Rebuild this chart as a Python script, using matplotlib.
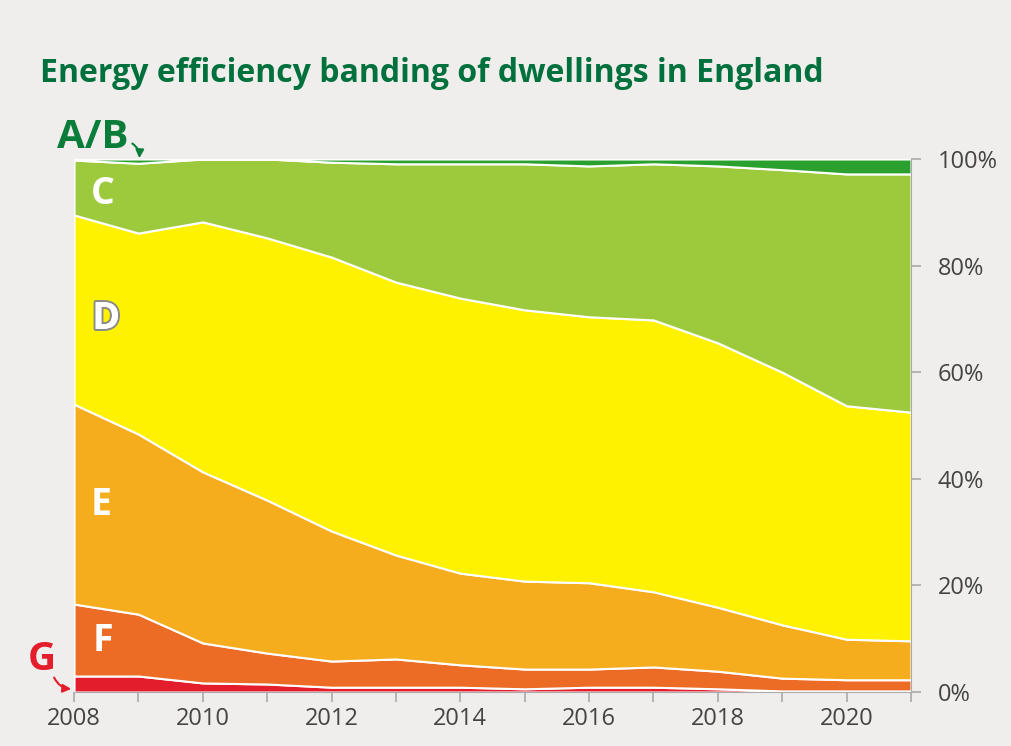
import matplotlib
matplotlib.use("Agg")
import matplotlib.pyplot as plt
import matplotlib.patheffects as pe
import numpy as np

years = list(range(2008, 2022))
band_G = [3.0, 3.0, 1.7, 1.5, 0.9, 0.9, 0.9, 0.6, 0.9, 0.9, 0.6, 0.2, 0.2, 0.2]
band_F = [13.5, 11.6, 7.5, 5.8, 4.9, 5.3, 4.2, 3.7, 3.4, 3.8, 3.3, 2.4, 2.1, 2.1]
band_E = [37.5, 33.8, 32.1, 28.7, 24.4, 19.5, 17.2, 16.5, 16.2, 14.1, 12.0, 10.0, 7.6, 7.3]
band_D = [35.5, 37.7, 46.9, 49.2, 51.4, 51.2, 51.6, 50.9, 49.9, 51.0, 49.6, 47.4, 43.8, 42.9]
band_C = [10.3, 13.1, 11.8, 14.8, 17.8, 22.2, 25.2, 27.4, 28.3, 29.3, 33.2, 38.0, 43.5, 44.7]
band_AB = [0.2, 0.8, 0.0, 0.0, 0.6, 0.9, 0.9, 0.9, 1.3, 0.9, 1.3, 2.0, 2.8, 2.8]

colors = ["#e31d2b", "#ec6b25", "#f5ad1e", "#fff200", "#9dca3c", "#2aa02e"]
bg = "#efeeec"

fig = plt.figure(figsize=(10.11, 7.46), dpi=100, facecolor=bg)
ax = fig.add_axes([74/1011, 54/746, (911-74)/1011, (692-159)/746])
ax.set_facecolor(bg)

ax.stackplot(years, band_G, band_F, band_E, band_D, band_C, band_AB,
             colors=colors, edgecolor="white", linewidth=1.5)

ax.set_xlim(2008, 2021)
ax.set_ylim(0, 100)

for s in ["top", "left"]:
    ax.spines[s].set_visible(False)
ax.spines["right"].set_color("#aaaaaa")
ax.spines["bottom"].set_color("#aaaaaa")
ax.axvline(2008, color="white", lw=1.5)

ax.yaxis.tick_right()
ax.set_yticks([0, 20, 40, 60, 80, 100])
ax.set_yticklabels([f"{v}%" for v in [0, 20, 40, 60, 80, 100]])
ax.set_xticks(years)
ax.set_xticklabels([str(y) if y % 2 == 0 else "" for y in years])
ax.tick_params(axis="both", colors="#aaaaaa", labelcolor="#444444",
               labelsize=17, length=7, width=1.2)
ax.tick_params(axis="y", pad=12)
ax.tick_params(axis="x", pad=4)
for lab in ax.get_xticklabels() + ax.get_yticklabels():
    lab.set_family("Open Sans")

fig.text(40/1011, 1 - 73/746, "Energy efficiency banding of dwellings in England",
         fontsize=23, fontweight="bold", color="#00703c", family="Open Sans",
         ha="left", va="center")

lab_kw = dict(fontsize=27, fontweight="bold", family="Open Sans", ha="center", va="center")
ax.text(2008.45, 93.5, "C", color="white", **lab_kw)
ax.text(2008.5, 70, "D", color="white",
        path_effects=[pe.withStroke(linewidth=3, foreground="#8a8a8a"), pe.Normal()], **lab_kw)
ax.text(2008.42, 35, "E", color="white", **lab_kw)
ax.text(2008.45, 9.5, "F", color="white", **lab_kw)

fig.text(93/1011, 1 - 137/746, "A/B", color="#0b7d3b", fontsize=29, fontweight="bold",
         family="Open Sans", ha="center", va="center")
fig.text(42/1011, 1 - 660/746, "G", color="#e31d2b", fontsize=28, fontweight="bold",
         family="Open Sans", ha="center", va="center")

ax.annotate("", xy=(139/1011, 1 - 161/746), xycoords="figure fraction",
            xytext=(130/1011, 1 - 142/746), textcoords="figure fraction",
            arrowprops=dict(arrowstyle="-|>", color="#0b7d3b", lw=1.5,
                            connectionstyle="arc3,rad=-0.35", mutation_scale=12))
ax.annotate("", xy=(74/1011, 1 - 689/746), xycoords="figure fraction",
            xytext=(53/1011, 1 - 675/746), textcoords="figure fraction",
            arrowprops=dict(arrowstyle="-|>", color="#e31d2b", lw=1.5,
                            connectionstyle="arc3,rad=0.35", mutation_scale=12))

fig.savefig("out.png", dpi=100, facecolor=bg)
